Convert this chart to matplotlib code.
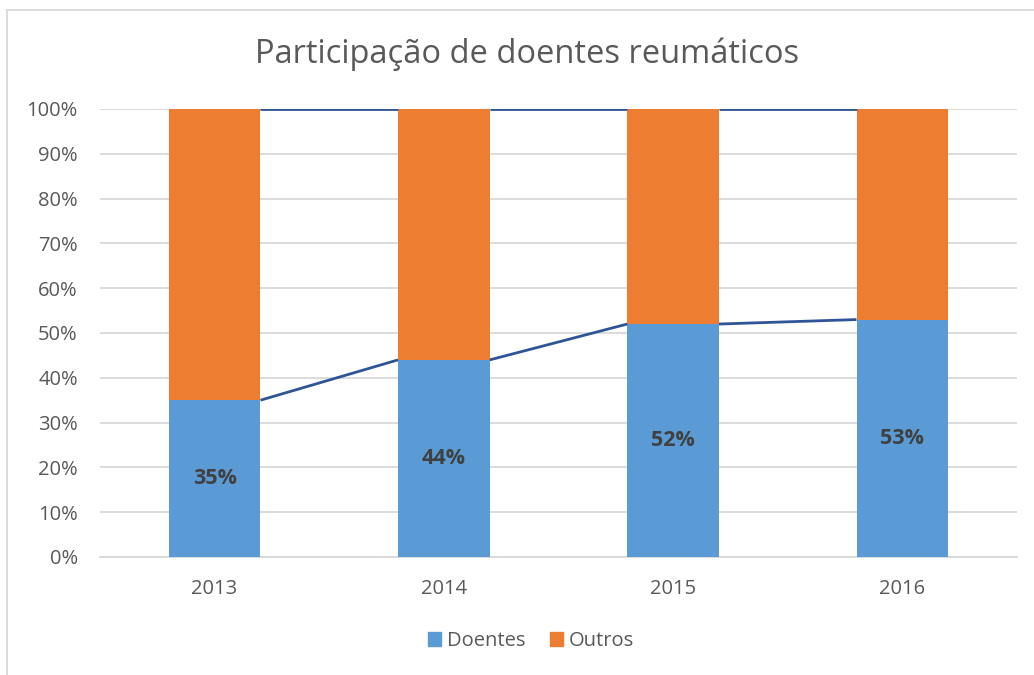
import matplotlib.pyplot as plt
from matplotlib.lines import Line2D
from matplotlib.ticker import PercentFormatter

years = ["2013", "2014", "2015", "2016"]
doentes = [35, 44, 52, 53]
outros = [65, 56, 48, 47]

BLUE = "#5B9BD5"
ORANGE = "#ED7D31"
LINE = "#2F5597"
GRAY = "#595959"

plt.rcParams['font.family'] = ['Open Sans', 'DejaVu Sans']

fig = plt.figure(figsize=(10.34, 6.75), dpi=100)
ax = fig.add_axes([100 / 1034, 1 - 557 / 675, 917 / 1034, 448 / 675])

x = list(range(len(years)))
width = 0.4
ax.bar(x, doentes, width, color=BLUE, label="Doentes", zorder=3)
ax.bar(x, outros, width, bottom=doentes, color=ORANGE, label="Outros", zorder=3)

# series lines between bars, like excel
tops = [d + o for d, o in zip(doentes, outros)]
for i in range(len(x) - 1):
    ax.plot([x[i] + width / 2, x[i + 1] - width / 2], [doentes[i], doentes[i + 1]],
            color=LINE, lw=2, zorder=4, solid_capstyle="butt")
    ax.plot([x[i] + width / 2, x[i + 1] - width / 2], [tops[i], tops[i + 1]],
            color=LINE, lw=2, zorder=4, solid_capstyle="butt")

for xi, d in zip(x, doentes):
    ax.text(xi, d / 2, f"{d}%", ha="center", va="center", fontsize=15.5,
            fontweight="bold", color="#404040", zorder=5)

ax.set_xlim(-0.5, 3.5)
ax.set_ylim(0, 100)
ax.set_yticks(range(0, 101, 10))
ax.yaxis.set_major_formatter(PercentFormatter(decimals=0))
ax.set_xticks(x)
ax.set_xticklabels(years)
ax.grid(axis="y", color="#D9D9D9", lw=1.3, zorder=0)
for s in ax.spines.values():
    s.set_visible(False)
ax.spines["bottom"].set_visible(True)
ax.spines["bottom"].set_color("#D9D9D9")
ax.spines["bottom"].set_linewidth(1.3)
ax.tick_params(length=0, labelsize=14.5, colors=GRAY)
ax.tick_params(axis="y", pad=16)
ax.tick_params(axis="x", pad=16)

fig.text(527 / 1034, 1 - 54 / 675, "Participação de doentes reumáticos",
         ha="center", va="center", fontsize=23.5, color=GRAY)

handles = [plt.Rectangle((0, 0), 1, 1, color=BLUE), plt.Rectangle((0, 0), 1, 1, color=ORANGE)]
fig.legend(handles, ["Doentes", "Outros"], loc="center", bbox_to_anchor=(531 / 1034, 1 - 641 / 675),
           ncol=2, frameon=False, fontsize=14.5, labelcolor=GRAY, handlelength=0.65,
           handleheight=0.65, handletextpad=0.3, columnspacing=1.2)

# chart border (cropped at right and bottom)
fig.add_artist(Line2D([7 / 1034, 7 / 1034], [0, 1 - 10 / 675], color="#D9D9D9", lw=1.3,
                      transform=fig.transFigure))
fig.add_artist(Line2D([7 / 1034, 1], [1 - 10 / 675, 1 - 10 / 675], color="#D9D9D9", lw=1.3,
                      transform=fig.transFigure))

fig.savefig("out.png", dpi=100)
